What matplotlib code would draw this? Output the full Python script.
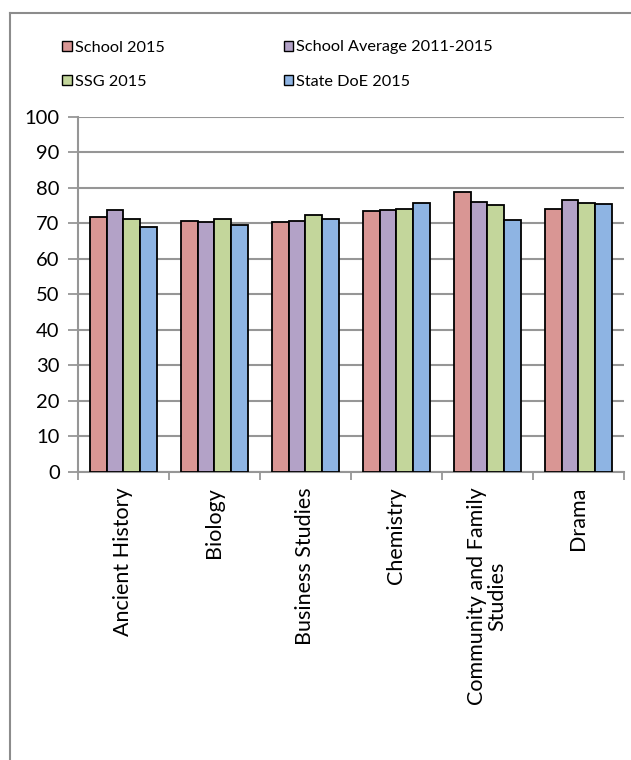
import matplotlib
matplotlib.use("Agg")
import matplotlib.pyplot as plt
from matplotlib.patches import Patch
from matplotlib.lines import Line2D
import numpy as np

plt.rcParams['font.family'] = ['Lato', 'DejaVu Sans']

categories = ["Ancient History", "Biology", "Business Studies", "Chemistry",
              "Community and Family\nStudies", "Drama"]
series_names = ["School 2015", "School Average 2011-2015", "SSG 2015", "State DoE 2015"]
school_2015 = [71.7, 70.6, 70.3, 73.4, 78.8, 73.9]
school_avg = [73.8, 70.2, 70.5, 73.6, 76.0, 76.6]
ssg_2015 = [71.2, 71.2, 72.3, 73.9, 75.0, 75.7]
state_doe = [68.8, 69.5, 71.1, 75.6, 70.9, 75.3]
y_ticks = [0, 10, 20, 30, 40, 50, 60, 70, 80, 90, 100]

colors = ["#D99694", "#B3A2C7", "#C3D69B", "#8EB4E3"]
all_series = [school_2015, school_avg, ssg_2015, state_doe]

W, H = 631, 760
fig = plt.figure(figsize=(W / 100, H / 100), dpi=100)
ax = fig.add_axes([77.7 / W, 1 - 471.7 / H, (624 - 77.7) / W, (471.7 - 116.7) / H])

n = len(categories)
x = np.arange(n) + 0.5
bw = 0.183
handles = []
for i, (vals, c, name) in enumerate(zip(all_series, colors, series_names)):
    ax.bar(x + (i - 1.5) * bw, vals, width=bw, color=c, edgecolor="black",
           linewidth=1.3, zorder=3)
    handles.append(Patch(facecolor=c, edgecolor="black", linewidth=1.0, label=name))

ax.set_xlim(0, n)
ax.set_ylim(0, 100)
ax.set_yticks(y_ticks)
ax.set_yticklabels([str(v) for v in y_ticks], fontsize=14.5)
ax.yaxis.grid(True, color="#969696", linewidth=1.5, zorder=0)
ax.set_axisbelow(True)

ax.set_xticks(np.arange(n + 1))
ax.set_xticklabels([])
ax.set_xticks(x, minor=True)
ax.set_xticklabels(categories, minor=True, rotation=90, fontsize=15.5,
                   va="top", ha="center", multialignment="center", linespacing=1.0)
ax.tick_params(axis="x", which="minor", length=0, pad=11)
ax.tick_params(axis="x", which="major", length=6, color="#969696", width=1.3)
ax.tick_params(axis="y", length=7, color="#969696", width=1.3, pad=6)

for s in ["top", "right"]:
    ax.spines[s].set_visible(False)
for s in ["left", "bottom"]:
    ax.spines[s].set_color("#969696")
    ax.spines[s].set_linewidth(1.5)

# chart area border
fig.add_artist(Line2D([10 / W, 10 / W], [0, 1 - 12.5 / H], transform=fig.transFigure,
                      color="#8c8c8c", linewidth=1.5))
fig.add_artist(Line2D([10 / W, 1], [1 - 12.5 / H, 1 - 12.5 / H], transform=fig.transFigure,
                      color="#8c8c8c", linewidth=1.5))

order = [0, 2, 1, 3]
leg = fig.legend([handles[k] for k in order], [series_names[k] for k in order],
                 ncol=2, loc="upper left", bbox_to_anchor=(62 / W, 1 - 40.5 / H),
                 frameon=False, fontsize=11.7, handlelength=0.6, handleheight=0.6,
                 handletextpad=0.2, columnspacing=7.3, labelspacing=1.24,
                 borderaxespad=0, borderpad=0)

fig.savefig("out.png", dpi=100)
